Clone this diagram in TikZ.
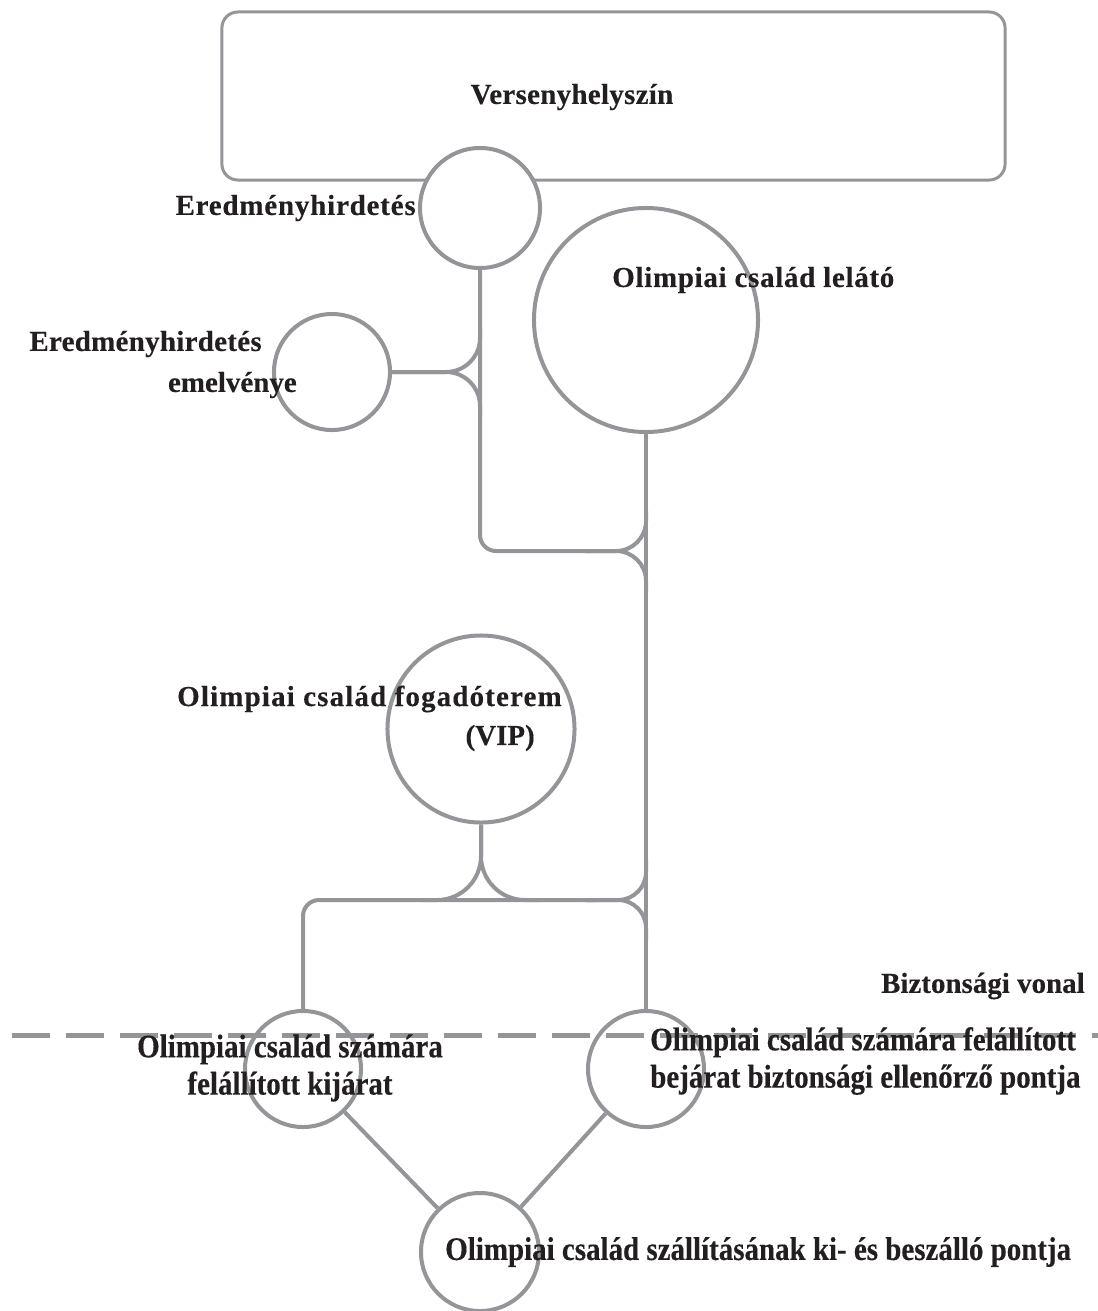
\documentclass[tikz,border=0pt]{standalone}
\usepackage{fontspec}
\setmainfont{Liberation Serif}[BoldFeatures={FakeBold=0.3}]
\newfontfamily\tallserif{Liberation Serif}[FakeStretch=0.88,BoldFeatures={FakeBold=0.3}]
\usetikzlibrary{positioning}

\definecolor{linegray}{RGB}{147,149,152}
\definecolor{inkblack}{RGB}{35,31,32}

\tikzset{
  spot/.style={circle,draw=linegray,line width=0.1cm,fill=white,inner sep=0pt,minimum size=#1},
  conn/.style={draw=linegray,line width=0.1cm},
  lbl/.style={text=inkblack,font=\bfseries\fontsize{20.6}{26}\selectfont,inner sep=0pt},
  lblwide/.style={lbl,font=\bfseries\fontsize{20.6}{26}\selectfont\addfontfeature{LetterSpace=#1}},
  lbltall/.style={lbl,font=\tallserif\bfseries\fontsize{23.4}{26.5}\selectfont},
}

\begin{document}
\begin{tikzpicture}[x=0.025cm,y=-0.025cm]
  \useasboundingbox (0,0) rectangle (1098,1311);
  % helyszin
  \node[draw=linegray,line width=0.075cm,rounded corners=0.4cm,minimum width=19.575cm,minimum height=4.2cm] (venue) at (613.5,96) {};
  % korok
  \node[spot=3cm] (erh) at (480,208) {};
  \node[spot=2.9cm] (emel) at (332,372) {};
  \node[spot=5.6cm] (lel) at (646,320) {};
  \node[spot=4.675cm] (vip) at (481,729) {};
  \node[spot=2.9cm] (kij) at (303,1069) {};
  \node[spot=2.9cm] (bej) at (646,1069) {};
  \node[spot=2.95cm] (pont) at (480,1252) {};
  % csomopontok
  \coordinate (bend) at (erh.south |- 0,551);
  \coordinate (jLel) at (lel.south |- bend);
  \coordinate (jEmel) at (erh.south |- emel.east);
  \coordinate (jVip) at (vip.south |- 0,900);
  \coordinate (jBej) at (lel.south |- jVip);
  % vonalak
  \draw[conn,rounded corners=0.4cm] (erh.south) -- (bend) -- ++(110,0);
  \draw[conn,rounded corners=0.85cm] (emel.east) -- (jEmel) -- ++(0,-45);
  \draw[conn,rounded corners=0.85cm] (emel.east) -- (jEmel) -- ++(0,45);
  \draw[conn,rounded corners=0.75cm] (jLel) ++(-60,0) -- (jLel) -- ++(0,-40);
  \draw[conn,rounded corners=0.75cm] (jLel) ++(-60,0) -- (jLel) -- ++(0,40);
  \draw[conn] (lel.south) -- (bej.north);
  \draw[conn,rounded corners=0.4cm] (jBej) ++(-50,0) -| (kij.north);
  \draw[conn,rounded corners=1.1cm] (vip.south) -- (jVip) -- ++(-60,0);
  \draw[conn,rounded corners=1.1cm] (vip.south) -- (jVip) -- ++(60,0);
  \draw[conn,rounded corners=0.7cm] (jBej) ++(-60,0) -- (jBej) -- ++(0,-40);
  \draw[conn,rounded corners=0.7cm] (jBej) ++(-60,0) -- (jBej) -- ++(0,40);
  \draw[conn] (kij) -- (pont);
  \draw[conn] (bej) -- (pont);
  % biztonsagi vonal
  \draw[linegray,line width=0.125cm,dash pattern=on 0.95cm off 0.4cm,dash phase=-0.3cm] (0,1035) -- (1098,1035);
  % feliratok
  \node[lblwide=1] (venueTxt) at (572,97) {Versenyhelyszín};
  \node[lblwide=2.8,left=0.05cm of erh] (erhTxt) {Eredményhirdetés};
  \node[lblwide=1,anchor=east] (emelTxtA) at (262,344) {Eredményhirdetés};
  \node[lbl,anchor=east] (emelTxtB) at (297,385) {emelvénye};
  \node[lblwide=2.4,anchor=west] (lelTxt) at (612,280) {Olimpiai család lelátó};
  \node[lblwide=4,anchor=east] (vipTxtA) at (562,699) {Olimpiai család fogadóterem};
  \node[lbl,anchor=east] (vipTxtB) at (535,738) {(VIP)};
  \node[lbl,anchor=east] (lineTxt) at (1085,986) {Biztonsági vonal};
  \node[lbltall,align=center] (kijTxt) at (290,1068) {Olimpiai család számára\\felállított kijárat};
  \node[lbltall,align=left,anchor=west] (bejTxt) at (650,1061) {Olimpiai család számára felállított\\bejárat biztonsági ellenőrző pontja};
  \node[lbltall,anchor=west] (pontTxt) at (445,1252) {Olimpiai család szállításának ki- és beszálló pontja};
\end{tikzpicture}
\end{document}
